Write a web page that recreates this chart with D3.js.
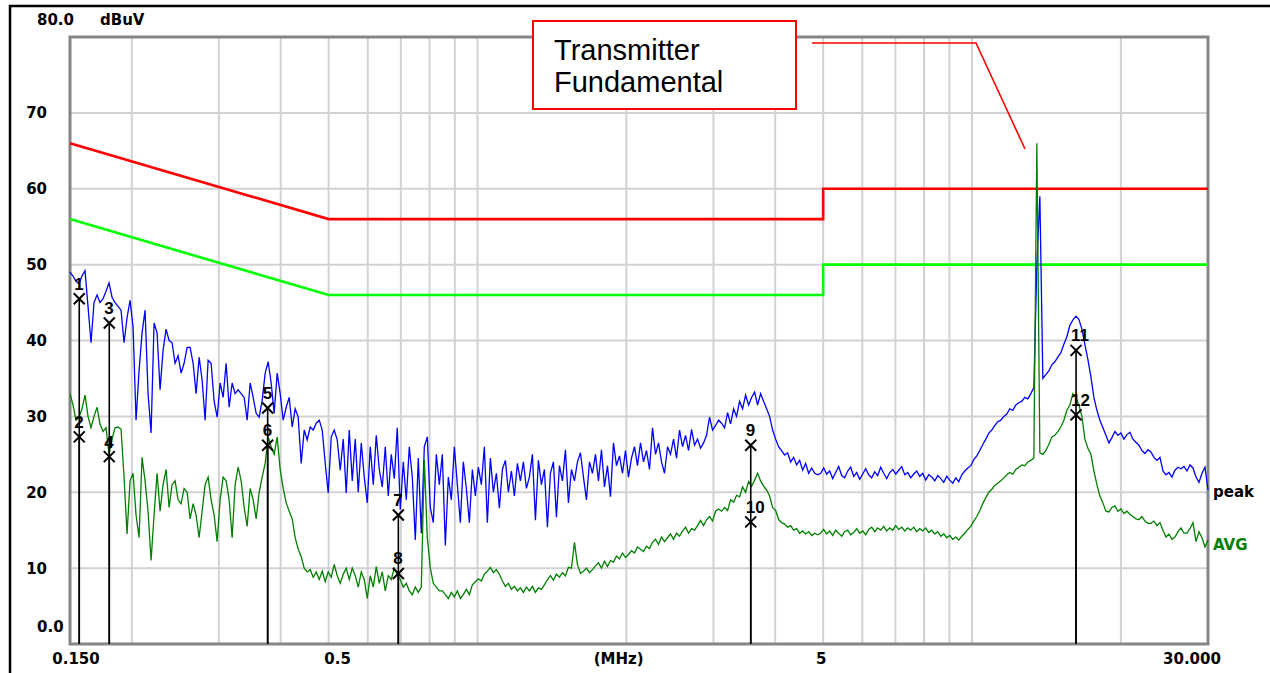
<!DOCTYPE html>
<html><head><meta charset="utf-8">
<script src="https://cdn.jsdelivr.net/npm/d3@7"></script>
<style>html,body{margin:0;padding:0;background:#fff;overflow:hidden}</style>
</head><body><svg id="c" width="1270" height="673"></svg>
<script>
// ---- sweep (log-spaced analyzer points) ----
const startMHz = 0.15, stopMHz = 30;

// ---- Peak detector trace (dBuV) ----
const peakDb = [
49.0,48.5,47.8,47.5,48.5,49.2,44.5,39.7,45,46,
45,45.5,46.5,47.6,45.7,45,44.5,44,39.7,43,
45.3,41.8,29.5,36,41,44,33,27.8,42.3,41,
33.5,38.7,41.5,40,39.7,37,38,35.7,37,39.1,
39.1,37,33,37.8,34.8,29.5,37.4,37,32,29.9,
34.4,32.5,37,31.2,34.4,33,33.5,33,32.5,29.5,
34.4,32.5,30.4,29.9,32.1,35.7,37.2,34.4,30.4,35.7,
33,29.5,31.2,32.5,28.6,31,29.9,23.8,28.2,26.9,
28.6,28.2,29.1,29.5,28.2,23.8,19.9,27.3,28.2,26.9,
22.9,27,19.9,28.2,
21.5,27,20,26.5,22,18.6,26,21,27.5,23,
20.7,26,19.5,25,21.8,28.5,17.7,24,19,26,
22,13.7,24.5,14.6,26,27.3,18,16,25,21,
25,13,22,19,26,21,16,24,20.5,16,
23,19.5,23.3,21,26,16,24.5,20,22.5,17.9,
23,24.2,20,22.8,19.5,23.8,21.5,24,20.5,22,
25,16.3,24.2,21,23,15.4,22.5,24,16.7,23.5,
21.5,25.6,18.6,23,21.5,24,25.2,22,19,24,
22.5,25,21.5,25.6,20.7,23.5,19.4,26.5,23.5,24.8,
22.5,25.5,22,24.5,26,23.5,26.5,24,25.5,23,
28.5,25,26.5,24,22.5,26,25,27,24.5,28.2,
26,27.5,25.5,28.3,26.2,27,25.8,26.5,27.5,29.9,
28.2,28.8,29.5,
29.1,28.5,30.5,29,31,30,32,31,32.8,31.5,
32.5,33.2,31.5,33,32,31,30,28.2,27,26,
25.5,24.9,25.2,24,24.6,23.6,24.2,22.9,23.8,22.5,
23.2,22.5,22.3,
22.5,23.2,22.4,22.8,21.8,22.6,23.4,22.2,21.9,22.8,
23.3,22.1,22.6,21.7,22.4,23.1,22.3,21.9,22.7,22.2,
23.3,22.5,21.8,22.6,23,22.4,22.9,23.4,22.3,22.6,
21.9,22.4,22.8,22.1,22.5,21.6,22.3,22,21.5,22.2,
21.8,21.3,22.1,21.6,21.2,21.9,21.4,22.3,22.8,23.2,
23.5,24.3,24.8,25.5,26.3,27,27.8,28.2,28.8,29.3,
29.5,30,30.3,31,30.8,31.5,31.8,32,32.5,32.3,
33,
33.8,50,59,35,
35.5,36,36.8,37.2,37.8,38.4,39.5,40.5,42,42.7,
43.2,42.8,41.5,39.5,37.5,35.2,32.5,30.8,29.5,28.5,
27.5,26.5,27.2,28,27.5,27.8,27,27.6,27.9,27,
26.6,26.2,25.5,25.1,25.6,25.3,24.6,24.2,24.6,22.8,
22.3,22.6,22,22.9,23.3,23.1,23.4,22.8,23.6,23.2,
22,21.3,22.5,23.3,20.3
];

// ---- Average detector trace (dBuV) ----
const avgDb = [
33,31.5,29.5,29.9,31,32.8,30,28.5,30,31.2,
29,28,28.5,25,27,28.5,28.6,28.3,22,14.5,
21.5,22.5,17,14,24.6,21.5,17.5,11,17,22.5,
17.5,21,23,18,21,21.5,19,18.5,20.5,20,
16.5,18.5,17,14,17.5,21,22,19,17,13.5,
19,22,21.5,19,14,21,23.3,21.5,18,15.5,
20.5,19,16.5,20,22,23.8,27.3,26,25,27.3,
23,20.5,18.6,17.5,16.5,14,12.5,11.5,10,9.5,
9.8,8.8,9.5,8.5,9.6,8.2,9.5,8.8,10.5,9,
8,9.2,10,8.5,
10,9,7.5,9.5,8.5,6,9,7.5,10.2,8,
9.5,7,9,8.5,10,9.2,8.5,7.5,8,7,
6.5,7.5,6.8,7.5,24.3,14,10,8,7.5,7,
7,6.5,6,6.8,6.2,7,6,6.5,7.2,6.5,
7.8,8.2,8.6,8.3,9.2,9.6,10.1,9.4,9.8,9.2,
8.3,7.6,8,7.2,7.6,7,7.4,6.8,7.5,7,
7.6,6.8,7.4,7.2,7.8,8.5,9,8.4,9.2,8.8,
9.4,9,10.1,10,13.4,10.5,9.3,9.6,10,9.4,
9.8,10.3,10.7,10,10.9,10.2,11,10.8,11.6,11.2,
12,11.4,11.8,12.3,12,12.8,12.5,12.2,12.9,12.6,
13.4,13.8,13.1,14.1,13.5,14,14.5,13.8,14.6,14.2,
14.9,15.4,14.6,15.2,15,15.6,16.3,15.6,16.4,16.8,
16.2,17.5,17.8,
17.5,18,17.6,19,18.7,19.6,19.4,20.7,20,21.4,
20.8,21.6,22.5,21.5,20.8,20.3,19.5,18,17.6,16.4,
16,15.8,15.4,15.6,15,15.2,14.6,14.9,14.5,14.8,
14.3,14.6,14.4,
14.6,15.1,14.5,14.9,14.3,15,14.6,14.2,14.8,15,
14.4,14.7,15.2,14.6,14.9,14.4,15.1,15.4,14.8,15.3,
15,15.5,14.9,15.3,15,15.6,15.1,15.4,14.9,15.3,
15,15.4,14.8,15.2,14.9,15.3,14.7,15,14.5,14.8,
14.2,14.5,14,14.3,13.8,14.1,13.7,14.2,14.6,15.1,
15.5,16.2,16.8,17.6,18.5,19.3,20,20.4,20.9,21.2,
21.5,21.9,22.3,22.6,22.4,23,23.3,23.6,23.5,24,
24.2,
24.5,66,25.2,25,
25.5,26.3,27.3,27.5,28,28.6,29.5,30.8,31.5,33,
32.5,31.5,30,27,25.8,25,22.8,21,19.5,18.6,
17.5,17.4,18,18.2,17.5,17.8,17.2,17.5,17.1,16.8,
16.5,16.4,16.8,16.2,15.9,15.9,16.2,15.6,16,15,
14.1,14.5,13.8,14.1,14.8,15.3,14.6,14.6,15.2,16,
13.5,14.8,14,12.8,13.7
];

// ---- limit lines [MHz, dBuV] ----
const qpLimit = [[0.15,66],[0.5,56],[5,56],[5,60],[30,60]];
const avLimit = [[0.15,56],[0.5,46],[5,46],[5,50],[30,50]];

// ---- markers ----
const markerNum  = [1,2,3,4,5,6,7,8,9,10,11,12];
const markerMHz  = [0.1566,0.1566,0.1801,0.1801,0.3765,0.3765,0.6918,0.6918,3.569,3.569,16.23,16.23];
const markerDb   = [45.5,27.3,42.3,24.7,31.1,26.2,17.0,9.3,26.2,16.1,38.7,30.2];

// ---- axes ----
const xGridMHz = [0.2,0.3,0.4,0.5,0.6,0.7,0.8,0.9,1,2,3,4,5,6,7,8,9,10,20];
const yGridDb  = [10,20,30,40,50,60,70];
const xTickMHz = [0.15,0.5,5,30];
const xTickText = ["0.150","0.5","5","30.000"];
const yTickDb   = [70,60,50,40,30,20,10];
const yTickText = ["70","60","50","40","30","20","10"];
const xUnit = "(MHz)", yTopText = "80.0", yBottomText = "0.0", yUnit = "dBuV";
const traceNames = ["peak","AVG"];
const noteLines = ["Transmitter","Fundamental"];

// ================= drawing =================
const svg = d3.select("#c");
svg.append("rect").attr("width",1270).attr("height",673).attr("fill","#fff");

const L=70, R=1208, T=37, B=644;
const x = d3.scaleLog().domain([startMHz, stopMHz]).range([L, R]);
const y = d3.scaleLinear().domain([0, 80]).range([B, T]);
const n = peakDb.length;
const freqAt = i => startMHz * Math.pow(stopMHz/startMHz, i/(n-1));

// outer frame
svg.append("path").attr("d","M10,680 L10,6 L1280,6").attr("fill","none")
  .attr("stroke","#000").attr("stroke-width",2.5);

// grid
const g = svg.append("g");
g.selectAll(".vg").data(xGridMHz).enter().append("line")
  .attr("x1",d=>x(d)).attr("x2",d=>x(d)).attr("y1",T).attr("y2",B)
  .attr("stroke","#d2d2d2").attr("stroke-width",2);
g.selectAll(".hg").data(yGridDb).enter().append("line")
  .attr("x1",L).attr("x2",R).attr("y1",d=>y(d)).attr("y2",d=>y(d))
  .attr("stroke","#d2d2d2").attr("stroke-width",2);

// plot border
svg.append("rect").attr("x",L).attr("y",T).attr("width",R-L).attr("height",B-T)
  .attr("fill","none").attr("stroke","#858585").attr("stroke-width",3);

// limit lines
const limLine = d3.line().x(d=>x(d[0])).y(d=>y(d[1]));
svg.append("path").attr("d",limLine(qpLimit)).attr("fill","none").attr("stroke","#ff0000").attr("stroke-width",2.6);
svg.append("path").attr("d",limLine(avLimit)).attr("fill","none").attr("stroke","#00ff00").attr("stroke-width",2.6);

// traces
const tr = d3.line().x((d,i)=>x(freqAt(i))).y(d=>y(d));
svg.append("path").attr("d",tr(peakDb)).attr("fill","none").attr("stroke","#0000ff").attr("stroke-width",1.3);
svg.append("path").attr("d",tr(avgDb)).attr("fill","none").attr("stroke","#008000").attr("stroke-width",1.3);

// markers
const mk = svg.append("g");
markerNum.forEach((num,k)=>{
  const mx = x(markerMHz[k]), my = y(markerDb[k]);
  mk.append("line").attr("x1",mx).attr("x2",mx).attr("y1",my).attr("y2",B)
    .attr("stroke","#000").attr("stroke-width",1.6);
  mk.append("path").attr("d",`M${mx-5.5},${my-5.5}L${mx+5.5},${my+5.5}M${mx-5.5},${my+5.5}L${mx+5.5},${my-5.5}`)
    .attr("stroke","#000").attr("stroke-width",2).attr("fill","none");
  mk.append("text").attr("x",mx-5).attr("y",my-9).text(num)
    .attr("font-family","Liberation Sans, Arial, sans-serif").attr("font-size",17)
    .attr("font-weight","bold").attr("fill","#000");
});

// axis texts
const axFont = "DejaVu Sans, sans-serif";
const tx = svg.append("g").attr("font-family",axFont).attr("font-size",15).attr("font-weight","bold").attr("fill","#000");
tx.selectAll(".yl").data(yTickDb).enter().append("text")
  .attr("x",47).attr("y",d=>y(d)).attr("dy","0.36em").attr("text-anchor","end")
  .text((d,i)=>yTickText[i]);
tx.append("text").attr("x",37).attr("y",y(80)-17).attr("dy","0.36em").text(yTopText);
tx.append("text").attr("x",100).attr("y",y(80)-17).attr("dy","0.36em").text(yUnit);
tx.append("text").attr("x",37).attr("y",y(0)-17).attr("dy","0.36em").text(yBottomText);
const nudge = {"0.150":6,"0.5":9,"5":-2,"30.000":-16};
tx.selectAll(".xl").data(xTickMHz).enter().append("text")
  .attr("x",(d,i)=>x(d)+nudge[xTickText[i]]).attr("y",659).attr("dy","0.36em").attr("text-anchor","middle")
  .text((d,i)=>xTickText[i]);
tx.append("text").attr("x",x(1.93)).attr("y",659).attr("dy","0.36em").attr("text-anchor","middle").text(xUnit);

// trace names
tx.append("text").attr("x",R+5).attr("y",y(peakDb[n-1])+2).attr("dy","0.36em").text(traceNames[0]);
tx.append("text").attr("x",R+5).attr("y",y(avgDb[n-1])+5).attr("dy","0.36em").attr("fill","#008000").text(traceNames[1]);

// annotation
const an = svg.append("g");
an.append("rect").attr("x",533).attr("y",21).attr("width",263).attr("height",88)
  .attr("fill","#fff").attr("stroke","#ff0000").attr("stroke-width",2);
an.selectAll("text").data(noteLines).enter().append("text")
  .attr("x",554).attr("y",(d,i)=>60+i*32).text(d=>d)
  .attr("font-family","Liberation Sans, Arial, sans-serif").attr("font-size",29).attr("fill","#000");
an.append("path").attr("d","M812,43 L976,43 L1025,149").attr("fill","none")
  .attr("stroke","#ff0000").attr("stroke-width",1.6);
</script></body></html>
